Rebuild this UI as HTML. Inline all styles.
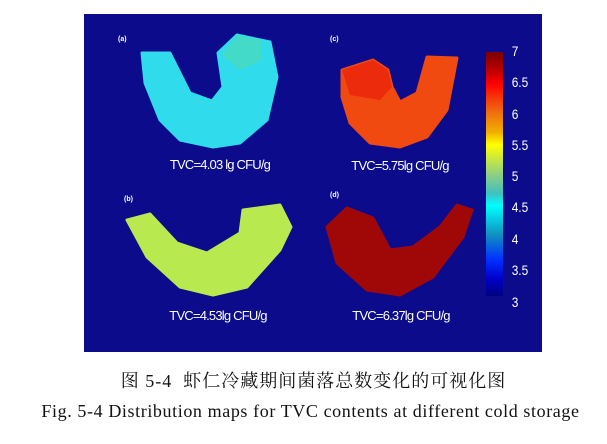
<!DOCTYPE html>
<html><head><meta charset="utf-8"><style>
body{margin:0;width:607px;height:444px;background:#fff;overflow:hidden;position:relative}
.cap{position:absolute;width:607px;text-align:center;color:#111;font-family:"Liberation Serif","Noto Serif CJK SC",serif;white-space:nowrap}
</style></head><body>
<svg width="607" height="444" style="position:absolute;left:0;top:0">
<defs>
<linearGradient id="cb" x1="0" y1="0" x2="0" y2="1">
<stop offset="0" stop-color="#7a0000"/>
<stop offset="0.08" stop-color="#c00000"/>
<stop offset="0.13" stop-color="#ff0000"/>
<stop offset="0.25" stop-color="#ef7010"/>
<stop offset="0.33" stop-color="#f0b000"/>
<stop offset="0.38" stop-color="#ffff00"/>
<stop offset="0.5" stop-color="#90d080"/>
<stop offset="0.58" stop-color="#40c0c0"/>
<stop offset="0.63" stop-color="#00ffff"/>
<stop offset="0.75" stop-color="#1090c0"/>
<stop offset="0.85" stop-color="#0030ff"/>
<stop offset="0.93" stop-color="#0000c8"/>
<stop offset="1" stop-color="#000080"/>
</linearGradient>
</defs>
<rect x="84" y="14" width="458" height="338" fill="#0b0b8c"/>
<g stroke-width="3" stroke-linejoin="round">
<polygon fill="#30dcec" stroke="#30dcec" points="142,53 170,53 190,93 212,101 223,87 218,53 237,35 270,42 277,77 267,120 240,143 213,147 180,140 160,120 145,83"/>
<polygon fill="#50d8b0" opacity="0.6" points="222,55 237,35 262,40 262,60 240,70"/>
<polygon fill="#f04a10" stroke="#f04a10" points="342,70 373,60 388,70 392,87 400,102 417,93 427,57 457,58 447,110 427,137 400,147 370,143 350,123 342,97"/>
<polygon fill="#e81808" opacity="0.6" points="342,70 373,60 388,70 392,87 380,100 350,95"/>
<polygon fill="#b8ea50" stroke="#b8ea50" points="127,220 150,214 177,243 207,253 240,233 243,210 280,205 291,227 280,250 247,287 213,295 180,287 147,257"/>
<polygon fill="#a00808" stroke="#a00808" points="327,227 347,208 373,218 390,250 413,247 440,227 457,205 472,210 463,237 433,277 400,295 367,290 337,263"/>
</g>
<rect x="486" y="52" width="17" height="244" fill="url(#cb)"/>
<g font-family="Liberation Sans,sans-serif" font-size="14" fill="#fff" transform="scale(0.85,1)">
<text x="602" y="56">7</text>
<text x="602" y="87">6.5</text>
<text x="602" y="119">6</text>
<text x="602" y="150">5.5</text>
<text x="602" y="181">5</text>
<text x="602" y="212">4.5</text>
<text x="602" y="244">4</text>
<text x="602" y="275">3.5</text>
<text x="602" y="307">3</text>
</g>
<g font-family="Liberation Sans,sans-serif" font-size="7" font-weight="bold" fill="#fff">
<text x="118" y="41">(a)</text>
<text x="330" y="41">(c)</text>
<text x="124" y="201">(b)</text>
<text x="330" y="197">(d)</text>
</g>
<g font-family="Liberation Sans,sans-serif" font-size="13" fill="#fff" text-anchor="middle" letter-spacing="-0.8">
<text x="220" y="169">TVC=4.03 lg CFU/g</text>
<text x="400" y="170">TVC=5.75lg CFU/g</text>
<text x="218" y="320">TVC=4.53lg CFU/g</text>
<text x="401" y="320">TVC=6.37lg CFU/g</text>
</g>
</svg>
<div class="cap" style="left:10px;top:367px;font-size:18px;letter-spacing:1px">图 5-4&nbsp; 虾仁冷藏期间菌落总数变化的可视化图</div>
<div class="cap" style="left:7px;top:401px;font-size:18px;letter-spacing:0.6px">Fig. 5-4 Distribution maps for TVC contents at different cold storage</div>
</body></html>
